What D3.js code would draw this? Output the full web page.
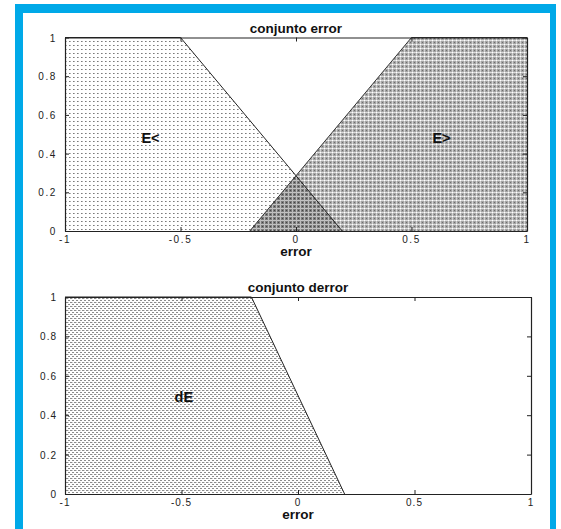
<!DOCTYPE html>
<html>
<head>
<meta charset="utf-8">
<script src="https://cdn.jsdelivr.net/npm/d3@7"></script>
<style>
  html, body { margin: 0; padding: 0; background: #fff; }
  svg { display: block; }
  text { font-family: "Liberation Sans", Arial, Helvetica, sans-serif; }
</style>
</head>
<body>
<svg id="chart" width="561" height="529"></svg>
<script>
// Tick values shared by both panels
const xTicks = [-1, -0.5, 0, 0.5, 1];
const yTicks = [0, 0.2, 0.4, 0.6, 0.8, 1];

// Membership functions of the "error" universe
const eLessX = [-1, -0.5, 0.2];
const eLessY = [1, 1, 0];
const eMoreX = [-0.2, 0.5, 1];
const eMoreY = [0, 1, 1];

// Membership function of the "derror" universe
const dEX = [-1, -0.2, 0.2];
const dEY = [1, 1, 0];

// Titles and labels
const titles = ["conjunto error", "conjunto derror"];
const xLabels = ["error", "error"];
const setNames = ["E<", "E>", "dE"];
const setNamePos = [[-0.63, 0.48], [0.63, 0.48], [-0.49, 0.49]];

const svg = d3.select("#chart");

// Patterns used for the filled sets
const defs = svg.append("defs");
function pattern(id, w, h, bg, marks) {
  const p = defs.append("pattern").attr("id", id)
    .attr("patternUnits", "userSpaceOnUse").attr("width", w).attr("height", h);
  p.append("rect").attr("width", w).attr("height", h).attr("fill", bg);
  marks.forEach(m => p.append("rect").attr("x", m[0]).attr("y", m[1])
    .attr("width", m[2]).attr("height", m[3]).attr("fill", m[4]));
}
pattern("dotsLight", 4, 4, "#fff", [[1, 1, 1.6, 1, "#7a7a7a"]]);
pattern("crossMid", 4, 4, "#a4a4a4", [[0, 0, 4, 1, "#dcdcdc"], [0, 0, 1, 4, "#d2d2d2"], [0, 0, 1, 1, "#fff"], [2, 2, 1, 1, "#6e6e6e"]]);
pattern("crossDark", 4, 4, "#7c7c7c", [[0, 0, 4, 1, "#c4c4c4"], [0, 0, 1, 4, "#bcbcbc"], [2, 2, 1, 1, "#444"]]);
pattern("dotsDense", 4, 4, "#fff", [[0, 0, 2, 1, "#8c8c8c"], [2, 2, 2, 1, "#8c8c8c"], [0, 2, 1, 1, "#d0d0d0"]]);

// Blue frame
svg.append("rect").attr("x", 15).attr("y", 4).attr("width", 541).attr("height", 530).attr("fill", "#00a9e8");
svg.append("rect").attr("x", 23).attr("y", 13).attr("width", 527).attr("height", 530).attr("fill", "#fff");

const panels = [
  { x0: 65, x1: 527, y0: 231, y1: 37.5, ls: 1.6 },
  { x0: 65, x1: 531, y0: 494, y1: 297, ls: 1.0 }
];

function toPts(xs, ys) { return xs.map((x, i) => [x, ys[i]]); }
function closeDown(pts) {
  const first = pts[0], last = pts[pts.length - 1];
  const out = pts.slice();
  if (first[1] !== 0) out.unshift([first[0], 0]);
  if (last[1] !== 0) out.push([last[0], 0]);
  return out;
}
// value of a piecewise-linear function (constant outside its breakpoints)
function interp(xs, ys, x) {
  if (x <= xs[0]) return ys[0];
  if (x >= xs[xs.length - 1]) return ys[ys.length - 1];
  for (let i = 0; i < xs.length - 1; i++) {
    if (x >= xs[i] && x <= xs[i + 1]) {
      return ys[i] + (ys[i + 1] - ys[i]) * (x - xs[i]) / (xs[i + 1] - xs[i]);
    }
  }
}

panels.forEach((pn, k) => {
  const x = d3.scaleLinear().domain([-1, 1]).range([pn.x0, pn.x1]);
  const y = d3.scaleLinear().domain([0, 1]).range([pn.y0, pn.y1]);
  const g = svg.append("g");
  const line = d3.line().x(d => x(d[0])).y(d => y(d[1]));

  if (k === 0) {
    const a = toPts(eLessX, eLessY), b = toPts(eMoreX, eMoreY);
    g.append("path").attr("d", line(closeDown(a)) + "Z").attr("fill", "url(#dotsLight)");
    g.append("path").attr("d", line(closeDown(b)) + "Z").attr("fill", "url(#crossMid)");
    // overlap region = pointwise minimum of both sets
    const xsAll = Array.from(new Set([...eLessX, ...eMoreX])).sort((p, q) => p - q);
    // crossing point of the two slopes
    const f = t => interp(eLessX, eLessY, t) - interp(eMoreX, eMoreY, t);
    let lo = -0.2, hi = 0.2;
    for (let i = 0; i < 60; i++) { const m = (lo + hi) / 2; if (f(m) > 0) lo = m; else hi = m; }
    const xc = (lo + hi) / 2;
    const xsMin = xsAll.concat([xc]).sort((p, q) => p - q)
      .filter(t => t >= eMoreX[0] && t <= eLessX[eLessX.length - 1]);
    const ov = xsMin.map(t => [t, Math.min(interp(eLessX, eLessY, t), interp(eMoreX, eMoreY, t))]);
    g.append("path").attr("d", line(ov) + "Z").attr("fill", "url(#crossDark)");
    g.append("path").attr("d", line(a)).attr("fill", "none").attr("stroke", "#222").attr("stroke-width", 1);
    g.append("path").attr("d", line(b)).attr("fill", "none").attr("stroke", "#333").attr("stroke-width", 1);
  } else {
    const c = toPts(dEX, dEY);
    g.append("path").attr("d", line(closeDown(c)) + "Z").attr("fill", "url(#dotsDense)");
    g.append("path").attr("d", line(c)).attr("fill", "none").attr("stroke", "#222").attr("stroke-width", 1);
  }

  // Box with inward ticks on all four sides
  const tl = 4;
  const axB = d3.axisBottom(x).tickValues(xTicks).tickSize(-tl).tickSizeOuter(0).tickFormat("");
  const axT = d3.axisTop(x).tickValues(xTicks).tickSize(-tl).tickSizeOuter(0).tickFormat("");
  const axL = d3.axisLeft(y).tickValues(yTicks).tickSize(-tl).tickSizeOuter(0).tickFormat("");
  const axR = d3.axisRight(y).tickValues(yTicks).tickSize(-tl).tickSizeOuter(0).tickFormat("");
  [[axB, `translate(0,${pn.y0})`], [axT, `translate(0,${pn.y1})`],
   [axL, `translate(${pn.x0},0)`], [axR, `translate(${pn.x1},0)`]].forEach(([ax, tr]) => {
    const a = g.append("g").attr("transform", tr).call(ax);
    a.selectAll("path.domain").attr("stroke", "#222").attr("stroke-width", 1.2);
    a.selectAll("line").attr("stroke", "#222");
  });

  // Tick labels
  const fmt = d => String(d);
  g.selectAll("text.xt").data(xTicks).join("text").attr("class", "xt")
    .attr("x", d => x(d)).attr("y", pn.y0 + 12)
    .attr("text-anchor", "middle").attr("font-size", 10).attr("fill", "#222")
    .attr("letter-spacing", pn.ls).text(fmt);
  g.selectAll("text.yt").data(yTicks).join("text").attr("class", "yt")
    .attr("x", pn.x0 - 8).attr("y", d => y(d) + 4)
    .attr("text-anchor", "end").attr("font-size", 10).attr("fill", "#222")
    .attr("letter-spacing", pn.ls).text(fmt);

  // Title and x label
  g.append("text").attr("x", (pn.x0 + pn.x1) / 2).attr("y", pn.y1 - 5)
    .attr("text-anchor", "middle").attr("font-size", 13.5).attr("font-weight", "bold")
    .attr("fill", "#111").text(titles[k]);
  g.append("text").attr("x", x(0)).attr("y", pn.y0 + 25)
    .attr("text-anchor", "middle").attr("font-size", 13.5).attr("font-weight", "bold")
    .attr("fill", "#111").text(xLabels[k]);

  // Set names
  const names = k === 0 ? [0, 1] : [2];
  names.forEach(i => {
    g.append("text").attr("x", x(setNamePos[i][0])).attr("y", y(setNamePos[i][1]) + 5)
      .attr("text-anchor", "middle").attr("font-size", 14.5).attr("font-weight", "bold")
      .attr("fill", "#111").text(setNames[i]);
  });
});
</script>
</body>
</html>
